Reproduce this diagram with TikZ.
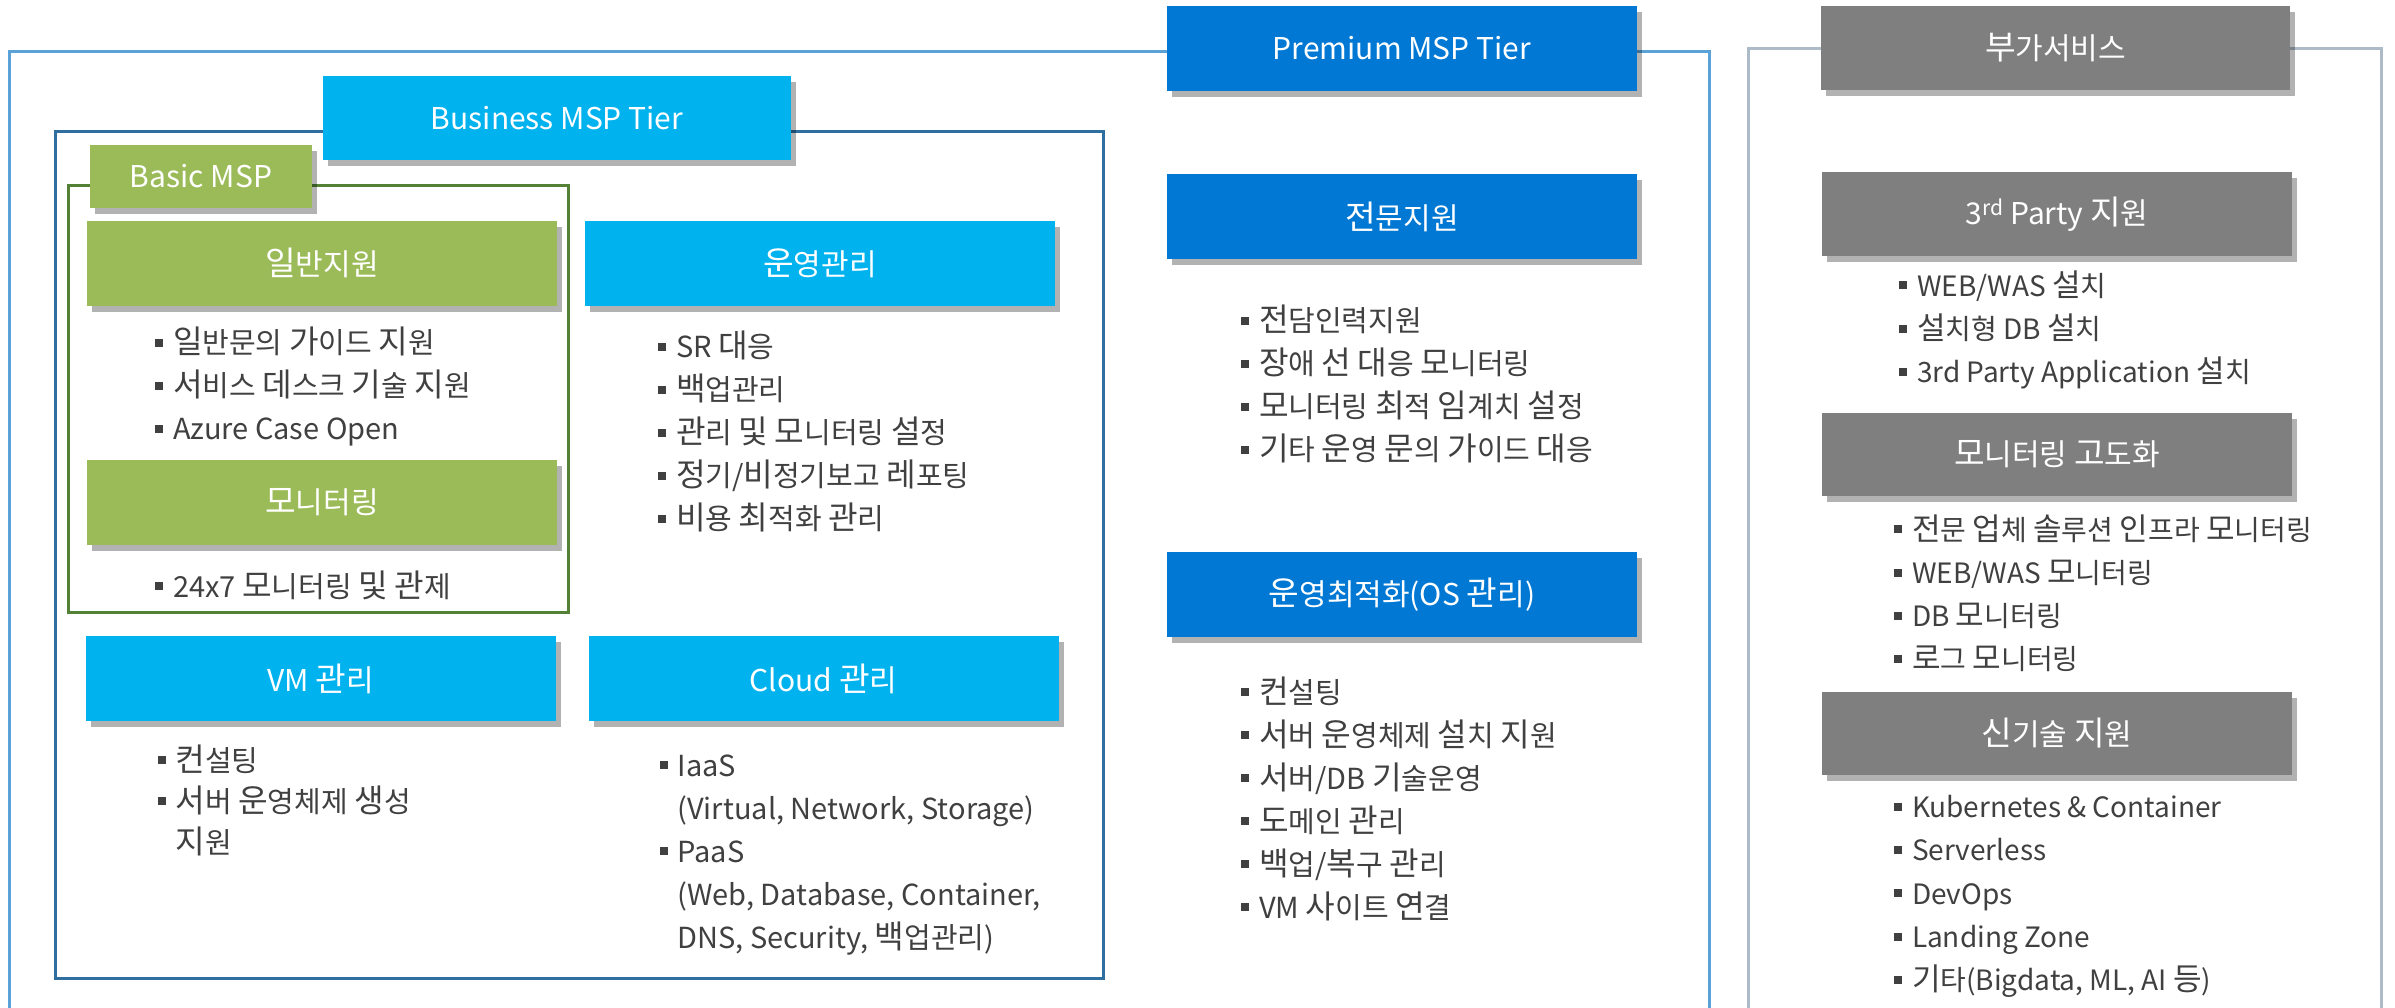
\documentclass[tikz,border=0pt]{standalone}
\usepackage{fontspec}
\setmainfont{Noto Sans CJK KR}
\newfontfamily\hangulface[Scale=1.11]{Noto Sans CJK KR}
\usetikzlibrary{positioning, shadows}

\definecolor{premblue}{HTML}{0078D4}
\definecolor{busblue}{HTML}{00B2EE}
\definecolor{basicgreen}{HTML}{9BBB59}
\definecolor{addgray}{HTML}{7F7F7F}
\definecolor{premline}{HTML}{5AA2D8}
\definecolor{busline}{HTML}{2F6F9F}
\definecolor{basicline}{HTML}{538135}
\definecolor{addline}{HTML}{ADBAC7}
\definecolor{textgray}{HTML}{404040}

% Hangul syllables get their own (larger) face and an optional gap
\XeTeXinterchartokenstate=1
\newXeTeXintercharclass\hangulclass
\newcount\hcnt
\hcnt="AC00
\loop
  \XeTeXcharclass\hcnt=\hangulclass
  \advance\hcnt by 1
\ifnum\hcnt<"D7A4 \repeat
\newcommand\hangulgap{}
\XeTeXinterchartoks 0 \hangulclass = {\hangulface}
\XeTeXinterchartoks 1 \hangulclass = {\hangulface}
\XeTeXinterchartoks 2 \hangulclass = {\hangulface}
\XeTeXinterchartoks 3 \hangulclass = {\hangulface}
\XeTeXinterchartoks 4095 \hangulclass = {\hangulface}
\XeTeXinterchartoks \hangulclass \hangulclass = {\hangulgap}
\XeTeXinterchartoks \hangulclass 0 = {\normalfont}
\XeTeXinterchartoks \hangulclass 1 = {\normalfont}
\XeTeXinterchartoks \hangulclass 2 = {\normalfont}
\XeTeXinterchartoks \hangulclass 3 = {\normalfont}
\XeTeXinterchartoks \hangulclass 4095 = {\normalfont}

\newcommand\bul{\textcolor{textgray}{\rule[0.24em]{8pt}{8pt}}\hspace{10pt}}
\newcommand\hang{\hspace*{18pt}}

\begin{document}
\begin{tikzpicture}[x=1pt,y=-1pt,on grid]
\tikzset{
  tier/.style={minimum width=470pt, minimum height=85pt, inner sep=0pt, text=white,
    font=\fontsize{30}{30}\selectfont,
    drop shadow={shadow xshift=5pt, shadow yshift=-6pt, opacity=0.3, fill=black}},
  premtier/.style={tier, fill=premblue},
  bustier/.style={tier, fill=busblue},
  basictier/.style={tier, fill=basicgreen},
  addtier/.style={tier, fill=addgray, font=\def\hangulgap{\kern2.5pt}\fontsize{30}{30}\selectfont},
  itemlist/.style={anchor=north west, align=left, inner sep=0pt, text=textgray,
    font=\fontsize{29}{43}\selectfont},
  premlist/.style={itemlist, font=\def\hangulgap{\kern1.5pt}\fontsize{29}{43}\selectfont},
  widelist/.style={itemlist, font=\def\hangulgap{\kern3pt}\fontsize{28}{43.2}\selectfont},
  frame/.style={line width=3pt}
}
\useasboundingbox (0,0) rectangle (2395,1007);

%--- frames ---
\draw[frame, premline] (9,1010) |- (1709,51) -- (1709,1010);
\draw[frame, busline] (55,131) rectangle (1103,978);
\draw[frame, basicline] (68,185) rectangle (568,612);
\draw[frame, addline] (1748,1010) |- (2381,48) -- (2381,1010);

%--- premium tier ---
\node[premtier] (premium) at (1402,48.5) {Premium MSP Tier};
\node[premtier] (pro) [below=168pt of premium] {전문지원};
\node[premtier] (osopt) [below=378pt of pro] {운영최적화(OS 관리)};

\node[premlist] (prolist) at ([xshift=74pt,yshift=-46pt]pro.south west)
  {\bul 전담인력지원\\ \bul 장애 선 대응 모니터링\\ \bul 모니터링 최적 임계치 설정\\ \bul 기타 운영 문의 가이드 대응};
\node[premlist] (osoptlist) at ([xshift=74pt,yshift=-39pt]osopt.south west)
  {\bul 컨설팅\\ \bul 서버 운영체제 설치 지원\\ \bul 서버/DB 기술운영\\ \bul 도메인 관리\\ \bul 백업/복구 관리\\ \bul VM 사이트 연결};

%--- business tier ---
\node[bustier, minimum width=468pt, minimum height=84pt] (business) at (557,118) {Business MSP Tier};
\node[basictier, minimum width=222pt, minimum height=63pt] (basic) at (201,176.5) {Basic MSP};
\node[basictier] (ilban) at (322,263) {일반지원};
\node[basictier] (monitor) [below=239.5pt of ilban] {모니터링};
\node[bustier] (ops) [right=498pt of ilban] {운영관리};
\node[bustier] (vm) at (320.5,678.5) {VM 관리};
\node[bustier] (cloud) [right=503pt of vm] {Cloud 관리};

\node[itemlist] (ilbanlist) at ([xshift=68pt,yshift=-21pt]ilban.south west)
  {\bul 일반문의 가이드 지원\\ \bul 서비스 데스크 기술 지원\\ \bul Azure Case Open};
\node[itemlist] (monlist) at ([xshift=68pt,yshift=-25pt]monitor.south west)
  {\bul 24x7 모니터링 및 관제};
\node[itemlist] (opslist) at ([xshift=73pt,yshift=-25pt]ops.south west)
  {\bul SR 대응\\ \bul 백업관리\\ \bul 관리 및 모니터링 설정\\ \bul 정기/비정기보고 레포팅\\ \bul 비용 최적화 관리};
\node[itemlist, font=\fontsize{29}{41}\selectfont] (vmlist) at ([xshift=72pt,yshift=-23pt]vm.south west)
  {\bul 컨설팅\\ \bul 서버 운영체제 생성\\ \hang 지원};
\node[itemlist] (cloudlist) at ([xshift=71pt,yshift=-33pt]cloud.south west)
  {\bul IaaS\\ \hang (Virtual, Network, Storage)\\ \bul PaaS\\ \hang (Web, Database, Container,\\ \hang DNS, Security, 백업관리)};

%--- additional services ---
\node[addtier, minimum width=469pt, minimum height=84pt, font=\fontsize{30}{30}\selectfont] (addon) at (2055.5,48) {부가서비스};
\node[addtier, minimum height=84pt] (third) at (2057,214) {3\textsuperscript{rd} Party 지원};
\node[addtier, minimum height=83pt] (monadv) [below=240.5pt of third] {모니터링 고도화};
\node[addtier, minimum height=83pt] (newtech) [below=279pt of monadv] {신기술 지원};

\node[widelist] (thirdlist) at ([xshift=77pt,yshift=-14pt]third.south west)
  {\bul WEB/WAS 설치\\ \bul 설치형 DB 설치\\ \bul 3rd Party Application 설치};
\node[widelist] (monadvlist) at ([xshift=72pt,yshift=-18pt]monadv.south west)
  {\bul 전문 업체 솔루션 인프라 모니터링\\ \bul WEB/WAS 모니터링\\ \bul DB 모니터링\\ \bul 로그 모니터링};
\node[widelist] (newtechlist) at ([xshift=72pt,yshift=-20pt]newtech.south west)
  {\bul Kubernetes \& Container\\ \bul Serverless\\ \bul DevOps\\ \bul Landing Zone\\ \bul 기타(Bigdata, ML, AI 등)};

\end{tikzpicture}
\end{document}
